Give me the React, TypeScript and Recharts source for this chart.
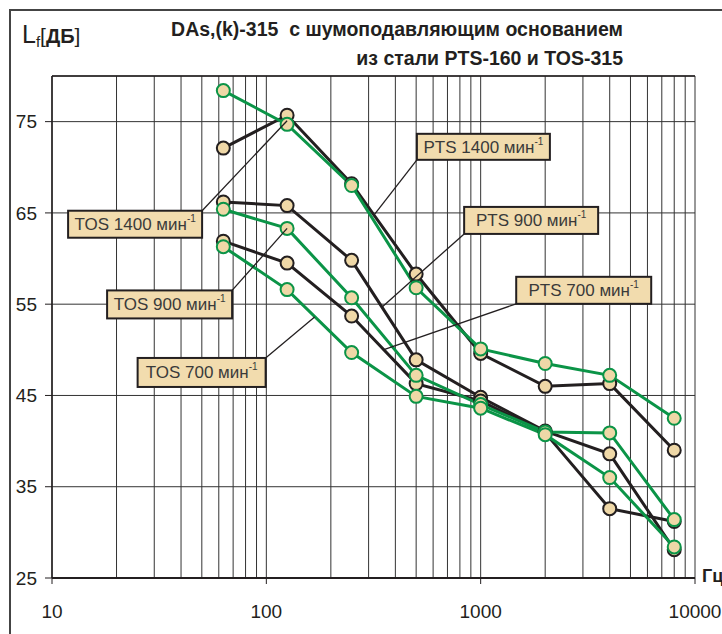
import { LineChart, Line, XAxis, YAxis, CartesianGrid, ReferenceLine, ReferenceDot } from 'recharts';

// octave band centre frequencies, Hz
const freqs = [63, 125, 250, 500, 1000, 2000, 4000, 8000];

// Lf, dB
const pts1400 = [72.1, 75.7, 68.2, 58.3, 49.6, 46.0, 46.3, 39.0];
const tos1400 = [78.4, 74.7, 68.0, 56.8, 50.1, 48.5, 47.2, 42.5];
const pts900 = [66.2, 65.8, 59.8, 48.9, 44.8, 41.1, 38.6, 28.1];
const tos900 = [65.4, 63.3, 55.7, 47.2, 44.0, 41.0, 40.9, 31.4];
const pts700 = [61.9, 59.5, 53.7, 46.3, 44.4, 40.9, 32.6, 31.2];
const tos700 = [61.3, 56.6, 49.7, 44.9, 43.6, 40.7, 36.0, 28.4];

const xMajor = [10, 100, 1000, 10000];
const xGrid = [
    10, 20, 30, 40, 50, 60, 70, 80, 90,
    100, 200, 300, 400, 500, 600, 700, 800, 900,
    1000, 2000, 3000, 4000, 5000, 6000, 7000, 8000, 9000,
    10000,
];
const yTicks = [25, 35, 45, 55, 65, 75];

const data = freqs.map((f, i) => ({
    f,
    pts1400: pts1400[i],
    tos1400: tos1400[i],
    pts900: pts900[i],
    tos900: tos900[i],
    pts700: pts700[i],
    tos700: tos700[i],
}));

const FONT = '"Liberation Sans", Arial, sans-serif';
const INK = '#231f20';
const BLACK = '#231f20';
const GREEN = '#0b9447';
const TAN = '#efd8a7';

// callouts: target point on a curve (data coords), box corner offset in px
const callouts = [
    { label: 'TOS 1400', x: 125, y: 75.1, dx: -85, dy: 90, w: 134, h: 27, corner: 'tr' },
    { label: 'TOS 900', x: 125, y: 63.3, dx: -55, dy: 62, w: 125, h: 28, corner: 'tr' },
    { label: 'TOS 700', x: 168, y: 53.6, dx: -49, dy: 41, w: 128, h: 29, corner: 'tr' },
    { label: 'PTS 1400', x: 321, y: 64.9, dx: 42, dy: -54, w: 133, h: 26, corner: 'bl' },
    { label: 'PTS 900', x: 347, y: 54.7, dx: 82, dy: -73, w: 134, h: 27, corner: 'bl' },
    { label: 'PTS 700', x: 351, y: 50.0, dx: 133, dy: -46, w: 135, h: 27, corner: 'bl' },
];

const Callout = (props: any) => {
    const { cx, cy, c } = props;
    const ex = cx + c.dx;
    const ey = cy + c.dy;
    const bx = c.corner === 'tr' ? ex - c.w : ex;
    const by = c.corner === 'tr' ? ey : ey - c.h;
    return (
        <g>
            <line x1={cx} y1={cy} x2={ex} y2={ey} stroke={INK} strokeWidth={1.3} />
            <rect x={bx} y={by} width={c.w} height={c.h} fill="#f2dcae" stroke={INK} strokeWidth={2} />
            <text x={bx + c.w / 2} y={by + c.h / 2 + 6} textAnchor="middle" fontFamily={FONT} fontSize={17} fill="#3a3a3a">
                {c.label} мин
                <tspan fontSize={10} dy={-8}>-1</tspan>
            </text>
        </g>
    );
};

const XTick = (props: any) => {
    const { x, y, payload } = props;
    if (!xMajor.includes(payload.value)) return <g />;
    return (
        <g>
            <line x1={x} y1={y} x2={x} y2={y + 6} stroke={INK} strokeWidth={1} />
            <text x={x} y={y + 40} textAnchor="middle" fontFamily={FONT} fontSize={19} fill={INK}>
                {payload.value}
            </text>
        </g>
    );
};

const series = [
    { key: 'pts1400', color: BLACK },
    { key: 'pts900', color: BLACK },
    { key: 'pts700', color: BLACK },
    { key: 'tos1400', color: GREEN },
    { key: 'tos900', color: GREEN },
    { key: 'tos700', color: GREEN },
];

export default function App() {
    return (
        <div style={{ position: 'fixed', left: 0, top: 0, width: 722, height: 634, overflow: 'hidden', background: '#fff' }}>
            <LineChart width={722} height={634} data={data} margin={{ top: 76, right: 27, bottom: 16, left: 8 }}>
                <CartesianGrid stroke="#333" strokeWidth={1} />
                <XAxis
                    dataKey="f"
                    type="number"
                    scale="log"
                    domain={[10, 10000]}
                    ticks={xGrid}
                    interval={0}
                    allowDataOverflow
                    height={40}
                    tickSize={0}
                    tickMargin={0}
                    tickLine={false}
                    tick={<XTick />}
                    axisLine={{ stroke: INK, strokeWidth: 2 }}
                />
                <YAxis
                    type="number"
                    domain={[25, 80]}
                    ticks={yTicks}
                    interval={0}
                    allowDataOverflow
                    width={44}
                    tickSize={7}
                    tickMargin={8}
                    tickLine={{ stroke: INK }}
                    axisLine={{ stroke: INK, strokeWidth: 1.5 }}
                    tick={{ fontFamily: FONT, fontSize: 19, fill: INK }}
                />
                <ReferenceLine y={80} stroke={INK} strokeWidth={1.5} />
                {series.map((s) => (
                    <Line
                        key={s.key}
                        dataKey={s.key}
                        stroke={s.color}
                        strokeWidth={3}
                        dot={{ r: 6.5, fill: TAN, stroke: s.color, strokeWidth: 2 }}
                        isAnimationActive={false}
                    />
                ))}
                {callouts.map((c) => (
                    <ReferenceDot
                        key={c.label}
                        x={c.x}
                        y={c.y}
                        r={0}
                        ifOverflow="visible"
                        shape={(p: any) => <Callout {...p} c={c} />}
                    />
                ))}
            </LineChart>

            <svg width={722} height={634} style={{ position: 'absolute', left: 0, top: 0, pointerEvents: 'none' }}>
                <rect x={10} y={10} width={800} height={800} fill="none" stroke="#444" strokeWidth={2} />
                <text x={623} y={36} textAnchor="end" fontFamily={FONT} fontSize={19.5} fontWeight="bold" fill={INK} style={{ whiteSpace: 'pre' }}>
                    DAs,(k)-315  с шумоподавляющим основанием
                </text>
                <text x={623} y={65} textAnchor="end" fontFamily={FONT} fontSize={19.5} fontWeight="bold" fill={INK}>
                    из стали PTS-160 и TOS-315
                </text>
                <text x={22} y={43} fontFamily={FONT} fill={INK}>
                    <tspan fontSize={25}>L</tspan>
                    <tspan fontSize={15} dy={4}>f</tspan>
                    <tspan fontSize={21} dy={-4}>[</tspan>
                    <tspan fontSize={20} fontWeight="bold">ДБ</tspan>
                    <tspan fontSize={21}>]</tspan>
                </text>
                <text x={702} y={582} fontFamily={FONT} fontSize={18} fontWeight="bold" fill={INK}>
                    Гц
                </text>
            </svg>
        </div>
    );
}
